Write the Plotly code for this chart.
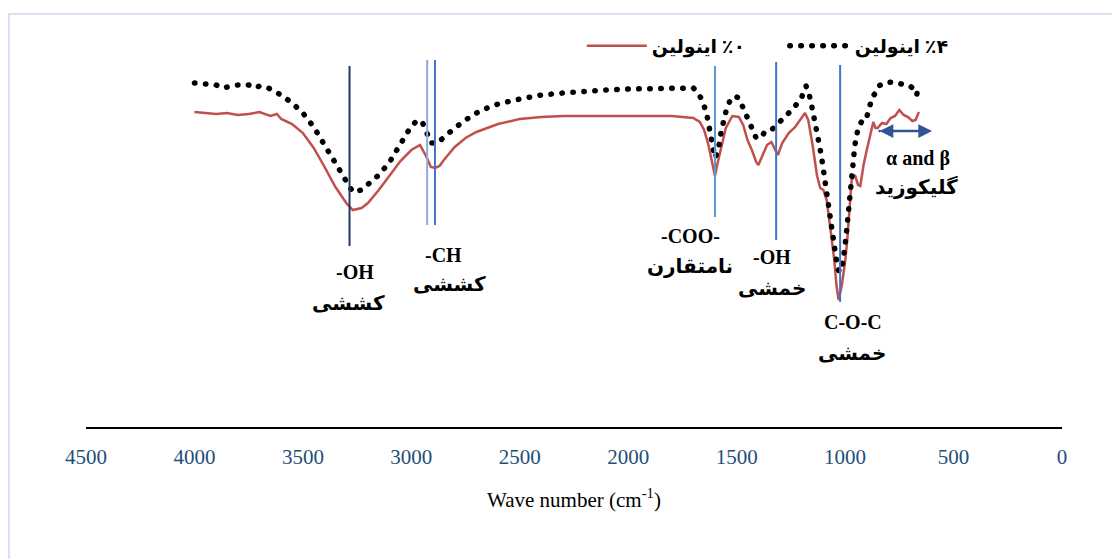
import plotly.graph_objects as go

# ---------------- data ----------------
wn_0 = [4000, 3950, 3900, 3850, 3800, 3750, 3700, 3650, 3620, 3600, 3550, 3500, 3450, 3400,
        3350, 3300, 3270, 3230, 3200, 3150, 3100, 3050, 3000, 2960, 2930, 2910, 2890, 2870,
        2850, 2800, 2750, 2700, 2600, 2500, 2400, 2300, 2200, 2100, 2000, 1900, 1800, 1750,
        1700, 1670, 1650, 1630, 1610, 1600, 1590, 1570, 1550, 1520, 1490, 1470, 1450, 1430,
        1410, 1400, 1380, 1360, 1340, 1320, 1310, 1290, 1260, 1230, 1200, 1185, 1170, 1150,
        1130, 1115, 1100, 1085, 1070, 1050, 1040, 1030, 1015, 1000, 990, 980, 970, 955, 940,
        930, 915, 900, 880, 870, 860, 850, 830, 810, 790, 770, 750, 730, 710, 690, 675, 660]
t_0 = [78.75, 78.5, 78.25, 78.5, 78.0, 78.25, 78.75, 77.75, 78.25, 77.0, 75.75, 73.5, 69.75, 65.0,
       60.0, 56.0, 54.25, 54.75, 56.0, 59.25, 63.0, 66.5, 69.25, 70.5, 67.5, 65.0, 64.75, 65.25,
       66.75, 70.0, 72.25, 73.75, 75.75, 77.0, 77.5, 77.75, 77.75, 77.75, 77.75, 77.75, 77.75, 77.5,
       77.25, 76.25, 74.25, 70.5, 64.75, 62.75, 65.5, 70.5, 74.75, 77.75, 77.5, 75.5, 71.75, 69.25,
       66.25, 65.5, 68.0, 70.5, 71.25, 69.25, 68.0, 71.0, 73.5, 75.0, 77.25, 78.5, 76.75, 70.5,
       63.0, 59.75, 59.25, 56.75, 50.5, 41.75, 35.5, 31.75, 35.5, 41.25, 46.75, 55.5, 61.75, 63.0, 60.5,
       60.25, 65.5, 69.25, 74.25, 76.25, 74.75, 74.75, 76.0, 75.75, 77.25, 77.75, 79.25, 78.0, 77.5, 76.5, 76.75, 78.75]

wn_4 = [4000, 3950, 3900, 3870, 3850, 3800, 3750, 3720, 3700, 3670, 3640, 3600, 3550, 3500,
        3450, 3400, 3350, 3300, 3270, 3230, 3200, 3150, 3100, 3050, 3000, 2970, 2950, 2930,
        2910, 2880, 2850, 2800, 2750, 2700, 2650, 2600, 2500, 2400, 2300, 2200, 2100, 2000,
        1900, 1800, 1700, 1680, 1660, 1640, 1620, 1600, 1585, 1570, 1550, 1530, 1510, 1490,
        1470, 1450, 1430, 1410, 1390, 1370, 1340, 1310, 1290, 1260, 1230, 1200, 1180, 1165,
        1150, 1130, 1110, 1090, 1070, 1050, 1035, 1025, 1010, 995, 980, 970, 955, 940, 925,
        905, 890, 875, 860, 845, 820, 800, 780, 760, 740, 720, 700, 680, 670, 660]
t_4 = [86.0, 85.75, 85.5, 84.75, 85.0, 85.5, 85.5, 84.75, 85.25, 85.0, 84.25, 83.0, 81.0, 78.5,
       75.0, 70.5, 66.0, 61.75, 58.75, 59.25, 60.5, 63.0, 66.25, 70.5, 75.25, 76.75, 76.25, 73.75,
       71.0, 71.0, 72.5, 74.75, 76.75, 78.5, 79.75, 80.75, 82.0, 83.0, 83.5, 84.0, 84.25, 84.5,
       84.5, 84.75, 84.75, 83.75, 81.75, 78.75, 73.75, 67.25, 69.25, 74.25, 78.75, 81.75, 82.75, 82.25,
       79.75, 77.25, 74.25, 72.25, 72.25, 73.75, 74.25, 75.75, 76.75, 78.5, 80.25, 82.5, 85.25, 83.0,
       79.25, 74.25, 68.0, 60.5, 53.0, 46.75, 39.75, 38.75, 41.25, 48.0, 56.75, 63.0, 70.5, 74.75, 76.25,
       76.5, 79.75, 82.5, 83.5, 85.25, 86.0, 86.25, 86.25, 86.0, 85.75, 85.5, 85.25, 84.25, 83.0, 85.5]

series_names = ["اینولین\u200e ٪۰", "اینولین\u200e ٪۴"]
x_ticks = [4500, 4000, 3500, 3000, 2500, 2000, 1500, 1000, 500, 0]

# band markers: (wavenumber, top, bottom, colour)
band_lines = [
    (3285, 90.25, 45.25, "#1F3864"),
    (2927, 91.75, 50.5, "#8FAADC"),
    (2891, 91.75, 50.5, "#4472C4"),
    (1600, 90.25, 52.5, "#5B9BD5"),
    (1318, 91.25, 46.75, "#4472C4"),
    (1023, 90.5, 31.25, "#4472C4"),
]
# labels: (wavenumber, level, text)
band_labels = [
    (3260, 38.75, "-OH"), (3292, 31.0, "کششی"),
    (2854, 43.0, "-CH"), (2822, 35.75, "کششی"),
    (1715, 47.75, "-COO-"), (1715, 40.25, "نامتقارن"),
    (1337, 42.5, "-OH"), (1337, 34.75, "خمشی"),
    (964, 26.25, "C-O-C"), (968, 18.5, "خمشی"),
    (664, 67.25, "α and β"), (669, 60.0, "گلیکوزید"),
]
glyco_range = (848, 599, 74.0)

FONT = "Liberation Serif, Times New Roman, DejaVu Sans, serif"

fig = go.Figure()
fig.add_trace(go.Scatter(x=wn_0, y=t_0, mode="lines", name=series_names[0],
                         line=dict(color="#C0504D", width=2.5)))
fig.add_trace(go.Scatter(x=wn_4, y=t_4, mode="lines", name=series_names[1],
                         line=dict(color="#000000", width=5.5, dash="0.5px,10.5px")))

for x, y0, y1, c in band_lines:
    fig.add_shape(type="line", xref="x", yref="y", x0=x, x1=x, y0=y0, y1=y1,
                  line=dict(color=c, width=2))

for x, y, txt in band_labels:
    fig.add_annotation(x=x, y=y, xref="x", yref="y", text="<b>%s</b>" % txt,
                       showarrow=False, font=dict(family=FONT, size=20, color="#000000"))

fig.add_annotation(x=glyco_range[1], y=glyco_range[2], ax=glyco_range[0], ay=glyco_range[2],
                   xref="x", yref="y", axref="x", ayref="y", text="", showarrow=True,
                   arrowhead=2, arrowside="end+start", arrowsize=1.1, arrowwidth=2.5,
                   arrowcolor="#2F5597")

# frame of chart area
fig.add_shape(type="rect", xref="paper", yref="paper", x0=-0.0789, x1=1.08, y0=-0.4, y1=1.0325,
              line=dict(color="#D9E2F3", width=2), layer="below")

fig.update_layout(
    width=1112, height=559,
    margin=dict(l=86, r=50, t=27, b=132),
    paper_bgcolor="white", plot_bgcolor="white",
    showlegend=True,
    legend=dict(orientation="h", x=0.508, y=1.0, xanchor="left", yanchor="top",
                font=dict(family=FONT, size=19, color="#000000", weight="bold"),
                bgcolor="rgba(0,0,0,0)", itemwidth=60, entrywidth=128, entrywidthmode="pixels"),
    xaxis=dict(range=[4500, 0], tickvals=x_ticks, ticktext=[str(v) for v in x_ticks],
               showgrid=False, zeroline=False, showline=True, linecolor="#000000", linewidth=2,
               ticks="outside", ticklen=10, tickcolor="rgba(0,0,0,0)",
               tickfont=dict(family=FONT, size=21, color="#1F4E79"),
               title=dict(text="Wave number (cm<sup>-1</sup>)", standoff=24,
                          font=dict(family=FONT, size=21, color="#000000"))),
    yaxis=dict(range=[0, 100], visible=False, showgrid=False, zeroline=False),
)

post = """
document.body.style.margin = '0';
document.documentElement.style.overflow = 'hidden';
var gd = document.getElementById('{plot_id}');
gd.querySelectorAll('path').forEach(function(p){
  var d = p.style.strokeDasharray;
  if (d && d !== 'none') { p.style.strokeLinecap = 'round'; }
});
"""
fig.write_html("out.html", post_script=post, config={"displayModeBar": False})
